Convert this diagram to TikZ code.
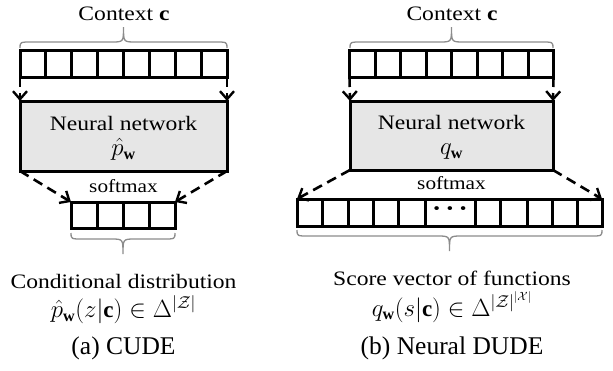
\documentclass[tikz,border=0pt]{standalone}
\usepackage{fontspec}
\setmainfont{Liberation Serif}
\newfontfamily\cambfont[FakeStretch=1.15]{Liberation Serif}
\usetikzlibrary{arrows.meta}
\definecolor{boxgrey}{RGB}{230,230,230}
\definecolor{bracegrey}{RGB}{140,140,140}
\newcommand{\mathsz}{\fontsize{23}{26}\selectfont}
\tikzset{
  arr/.style={draw, line width=3pt, inner sep=0pt, outer sep=0pt},
  nnbox/.style={draw, fill=boxgrey, line width=3pt, inner sep=0pt, outer sep=0pt},
  cellline/.style={line width=3pt},
  dasharrow/.style={line width=2.6pt, dash pattern=on 10pt off 6pt, -{Straight Barb[length=8pt,width=14pt,line width=2.4pt]}},
  bracestyle/.style={draw=bracegrey, line width=1.3pt},
  lbl/.style={font=\cambfont\fontsize{20.5}{24}\selectfont, inner sep=0pt},
  twoline/.style={font=\cambfont\fontsize{20.5}{24}\selectfont, inner sep=0pt, align=center},
  smx/.style={font=\cambfont\fontsize{18.5}{20}\selectfont, inner sep=0pt},
  dotstyle/.style={font=\cambfont\bfseries\fontsize{24}{24}\selectfont, inner sep=0pt},
  captxt/.style={font=\fontsize{25.5}{30}\selectfont, inner sep=0pt}
}
\newcommand{\mybrace}[4]{%
  \draw[bracestyle] (#1,#3) .. controls (#1,{#3+#4*6}) .. ({#1+12},{#3+#4*6})
    -- ({(#1+#2)/2-12},{#3+#4*6}) .. controls ({(#1+#2)/2},{#3+#4*6}) .. ({(#1+#2)/2},{#3+#4*21})
    .. controls ({(#1+#2)/2},{#3+#4*6}) .. ({(#1+#2)/2+12},{#3+#4*6})
    -- ({#2-12},{#3+#4*6}) .. controls (#2,{#3+#4*6}) .. (#2,#3);}
\begin{document}
\begin{tikzpicture}[x=1pt,y=-1pt]
\useasboundingbox (0,0) rectangle (613,370);

% ---------------- (a) CUDE ----------------
\node[lbl] (ctxlabA) at (124,14) {Context \textbf{c}};
\mybrace{20}{227}{48}{-1}
\node[arr, minimum width=207pt, minimum height=27pt] (ctxA) at (123.5,63.5) {};
\foreach \i in {1,...,7} { \draw[cellline] ({20+\i*207/8},50) -- ({20+\i*207/8},77); }
\node[nnbox, minimum width=207pt, minimum height=70pt] (nnA) at (123.5,136) {};
\node[twoline, anchor=north] (nntxtA) at (123.5,116) {Neural network\\[1pt]{\mathsz$\hat{p}_{\mathbf{w}}$}};
\draw[dasharrow] (ctxA.south west) -- (nnA.north west);
\draw[dasharrow] (ctxA.south east) -- (nnA.north east);
\node[smx] (smA) at (123.5,186) {softmax};
\node[arr, minimum width=104pt, minimum height=26pt] (outA) at (123,215) {};
\foreach \i in {1,2,3} { \draw[cellline] ({71+\i*26},202) -- ({71+\i*26},228); }
\draw[dasharrow] (nnA.south west) -- (outA.north west);
\draw[dasharrow] (nnA.south east) -- (outA.north east);
\mybrace{71}{175}{233}{1}
\node[twoline, anchor=north] (descA) at (123.5,274) {Conditional distribution\\[5pt]{\mathsz$\hat{p}_{\mathbf{w}}(z|\mathbf{c}) \in \Delta^{|\mathcal{Z}|}$}};
\node[captxt] (capA) at (123.5,348) {(a) CUDE};

% ---------------- (b) Neural DUDE ----------------
\node[lbl] (ctxlabB) at (452,14) {Context \textbf{c}};
\mybrace{350}{553}{48}{-1}
\node[arr, minimum width=204pt, minimum height=27pt] (ctxB) at (451.5,63.5) {};
\foreach \i in {1,...,7} { \draw[cellline] ({349.5+\i*204/8},50) -- ({349.5+\i*204/8},77); }
\node[nnbox, minimum width=203pt, minimum height=69pt] (nnB) at (451.5,135.5) {};
\node[twoline, anchor=north] (nntxtB) at (451.5,115) {Neural network\\[1pt]{\mathsz$q_{\mathbf{w}}$}};
\draw[dasharrow] (ctxB.south west) -- (nnB.north west);
\draw[dasharrow] (ctxB.south east) -- (nnB.north east);
\node[smx] (smB) at (451.5,183) {softmax};
\node[arr, minimum width=305pt, minimum height=27pt] (outB) at (449.5,212.5) {};
\foreach \xx in {322,348,373,398,425,475,500,527,552,577} { \draw[cellline] (\xx,199) -- (\xx,226); }
\node[dotstyle] (dotsB) at (450,212) {\textperiodcentered\,\textperiodcentered\,\textperiodcentered};
\draw[dasharrow] (nnB.south west) -- (outB.north west);
\draw[dasharrow] (nnB.south east) -- (outB.north east);
\mybrace{297}{602}{230}{1}
\node[twoline, anchor=north] (descB) at (452,271) {Score vector of functions\\[5pt]{\mathsz$q_{\mathbf{w}}(s|\mathbf{c}) \in \Delta^{|\mathcal{Z}|^{|\mathcal{X}|}}$}};
\node[captxt] (capB) at (452,348) {(b) Neural DUDE};
\end{tikzpicture}
\end{document}
